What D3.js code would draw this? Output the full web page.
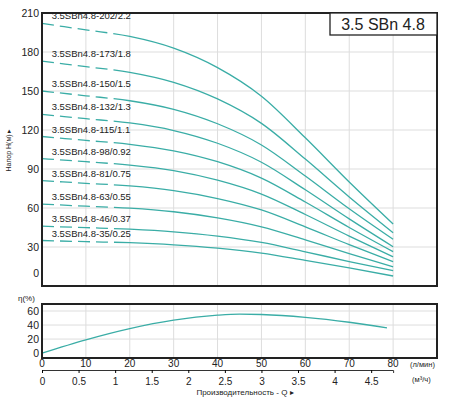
<!DOCTYPE html><html><head><meta charset="utf-8"><script src="https://cdn.jsdelivr.net/npm/d3@7"></script>
<style>body{margin:0;background:#fff}text{font-family:"Liberation Sans",Arial,sans-serif;fill:#222}</style></head><body><svg id="c" width="450" height="401"></svg>
<script>
const Q=[0,10,20,30,40,50,60,70,80];
const names=["3.5SBn4.8-202/2.2","3.5SBn4.8-173/1.8","3.5SBn4.8-150/1.5","3.5SBn4.8-132/1.3","3.5SBn4.8-115/1.1","3.5SBn4.8-98/0.92","3.5SBn4.8-81/0.75","3.5SBn4.8-63/0.55","3.5SBn4.8-46/0.37","3.5SBn4.8-35/0.25"];
const H0=[202,197,192,183,168,146,114,80,47.7];
const H1=[173,168.7,164.4,156.7,143.9,125.1,97.6,68.5,41];
const H2=[150,146.3,142.5,135.9,124.8,108.5,84.6,59.4,35.9];
const H3=[132,128.7,125.4,119.6,109.8,95.2,74,51.6,30.2];
const H4=[115,112,109,104,95.6,83,64.6,45,26.4];
const H5=[98,95.6,93,88.8,81.4,70.7,55,38.4,22.5];
const H6=[81,79,77,73.4,67.3,58.5,45.5,31.8,18.7];
const H7=[63,61.4,59.9,57.1,52.4,45.5,35.5,24.9,14.8];
const H8=[46,44.9,43.7,41.7,38.4,33.5,26.3,18.8,11.8];
const H9=[35,34.1,33.3,31.7,29.1,25.3,19.7,13.9,7.7];
const heads=[H0,H1,H2,H3,H4,H5,H6,H7,H8,H9];
const effQ=[0,10,20,30,40,45,50,60,70,78.6];
const eff=[0,19,35,47,54,55.5,55,51,44,36];
const hTicks=[0,30,60,90,120,150,180,210];
const effTicks=[0,20,40,60];
const qTicks=[0,10,20,30,40,50,60,70,80];
const m3Ticks=[0,0.5,1,1.5,2,2.5,3,3.5,4,4.5];
const col="#3aada6";
const svg=d3.select("#c");
const x=d3.scaleLinear().domain([0,90]).range([42,437]);
const y=d3.scaleLinear().domain([0,210]).range([286,13]);
const ye=d3.scaleLinear().domain([-7,70]).range([358,304]);
const g=svg.append("g");
g.selectAll(".vg").data(d3.range(10,90,10)).join("line").attr("x1",d=>x(d)).attr("x2",d=>x(d)).attr("y1",13).attr("y2",286).attr("stroke","#ddd");
g.selectAll(".hg").data([30,60,90,120,150,180]).join("line").attr("x1",42).attr("x2",437).attr("y1",d=>y(d)).attr("y2",d=>y(d)).attr("stroke","#ddd");
g.selectAll(".ht").data(hTicks).join("text").attr("x",39).attr("y",d=>d===0?y(d)-13+4:y(d)+4).attr("text-anchor","end").attr("font-size",10.5).text(d=>d);
const line=d3.line().x((d,i)=>x(Q[i])).y(d=>y(d)).curve(d3.curveMonotoneX);
heads.forEach((h,k)=>{
  svg.append("path").attr("d",line(h)).attr("fill","none").attr("stroke",col).attr("stroke-width",1.3)
   .attr("stroke-dasharray","12,6,12,6,12,6,12,6,1000");
  svg.append("text").attr("x",x(2.2)).attr("y",y(h[0])-4).attr("font-size",9.5).text(names[k]);
});
svg.append("rect").attr("x",42).attr("y",13).attr("width",395).attr("height",273).attr("fill","none").attr("stroke","#222").attr("stroke-width",2);
svg.append("rect").attr("x",330).attr("y",13).attr("width",107).attr("height",22).attr("fill","#fff").attr("stroke","#222").attr("stroke-width",1.3);
svg.append("text").attr("x",383).attr("y",30).attr("text-anchor","middle").attr("font-size",16).text("3.5 SBn 4.8");
svg.append("text").attr("transform","translate(11,150) rotate(-90)").attr("text-anchor","middle").attr("font-size",7).text("Напор H(м) ▸");
svg.selectAll(".evg").data(d3.range(10,90,10)).join("line").attr("x1",d=>x(d)).attr("x2",d=>x(d)).attr("y1",304).attr("y2",358).attr("stroke","#ddd");
svg.selectAll(".ehg").data([20,40,60]).join("line").attr("x1",42).attr("x2",437).attr("y1",d=>ye(d)).attr("y2",d=>ye(d)).attr("stroke","#ddd");
svg.append("path").attr("d",d3.line().x((d,i)=>x(effQ[i])).y(d=>ye(d)).curve(d3.curveMonotoneX)(eff)).attr("fill","none").attr("stroke",col).attr("stroke-width",1.3);
svg.append("rect").attr("x",42).attr("y",304).attr("width",395).attr("height",54).attr("fill","none").attr("stroke","#222").attr("stroke-width",2);
svg.selectAll(".et").data(effTicks).join("text").attr("x",39).attr("y",d=>ye(d)+4).attr("text-anchor","end").attr("font-size",10.5).text(d=>d);
svg.append("text").attr("x",18).attr("y",301).attr("font-size",8).text("η(%)");
svg.selectAll(".qt").data(qTicks).join("text").attr("x",d=>x(d)).attr("y",367).attr("text-anchor","middle").attr("font-size",10).text(d=>d);
svg.append("text").attr("x",410).attr("y",367).attr("font-size",7.5).text("(л/мин)");
const ax=svg.append("g").attr("transform","translate(0,370)").call(d3.axisBottom(d3.scaleLinear().domain([0,4.8]).range([42,x(80)])).tickValues(m3Ticks).tickSize(3).tickFormat(d=>d));
ax.select(".domain").attr("stroke","#333");
ax.selectAll("text").attr("font-size",10).attr("dy","0.9em").style("font-family","Liberation Sans");
svg.append("text").attr("x",412).attr("y",382).attr("font-size",7.5).text("(м³/ч)");
svg.append("text").attr("x",245).attr("y",395).attr("text-anchor","middle").attr("font-size",8).text("Производительность - Q ▸");
</script></body></html>
